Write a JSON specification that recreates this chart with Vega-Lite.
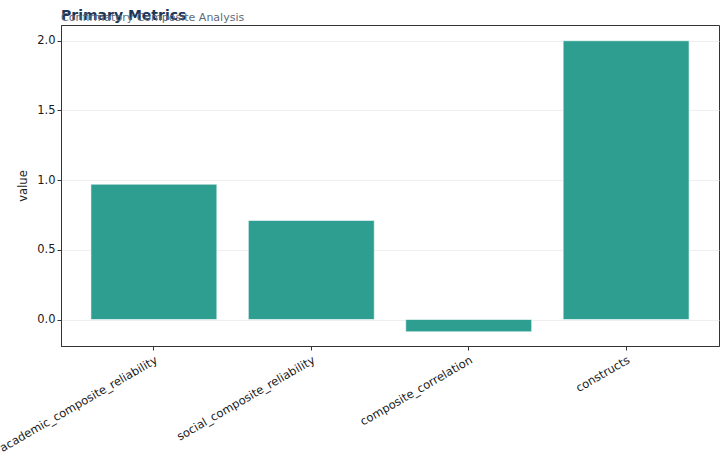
{
  "$schema": "https://vega.github.io/schema/vega-lite/v6.json",
  "width": 658,
  "height": 321,
  "autosize": {"type": "none"},
  "padding": {"left": 61, "top": 25, "right": 1, "bottom": 114},
  "background": "white",
  "title": {
    "text": "Primary Metrics",
    "subtitle": "Confirmatory Composite Analysis",
    "anchor": "start",
    "frame": "group",
    "font": "DejaVu Sans",
    "fontSize": 14,
    "fontWeight": "bold",
    "color": "#1d3557",
    "subtitleFont": "DejaVu Sans",
    "subtitleFontSize": 11,
    "subtitleColor": "#5c6b7a",
    "subtitlePadding": -11,
    "offset": 2
  },
  "data": {
    "values": [
      {"metric": "academic_composite_reliability", "value": 0.971},
      {"metric": "social_composite_reliability", "value": 0.711},
      {"metric": "composite_correlation", "value": -0.088},
      {"metric": "constructs", "value": 2}
    ]
  },
  "config": {
    "font": "DejaVu Sans",
    "view": {"stroke": "#333333", "strokeWidth": 1},
    "axis": {
      "labelFont": "DejaVu Sans",
      "labelFontSize": 11.5,
      "labelColor": "#1a1a1a",
      "titleFont": "DejaVu Sans",
      "titleFontSize": 11.5,
      "titleFontWeight": "normal",
      "titleColor": "#1a1a1a",
      "domainColor": "#333333",
      "tickColor": "#333333",
      "tickSize": 4
    }
  },
  "mark": {"type": "bar", "color": "#2a9d8f", "stroke": "#ffffff", "strokeWidth": 0.6, "opacity": 0.98},
  "encoding": {
    "x": {
      "field": "metric",
      "type": "nominal",
      "sort": null,
      "title": null,
      "scale": {"paddingInner": 0.2, "paddingOuter": 0.19},
      "axis": {"labelAngle": -30, "labelAlign": "right", "labelBaseline": "top", "labelPadding": 4, "grid": false}
    },
    "y": {
      "field": "value",
      "type": "quantitative",
      "title": "value",
      "scale": {"domain": [-0.19, 2.113], "nice": false, "zero": false},
      "axis": {"values": [0, 0.5, 1, 1.5, 2], "format": ".1f", "grid": true, "gridColor": "#ebebeb", "gridWidth": 0.8, "titlePadding": 8}
    }
  }
}
